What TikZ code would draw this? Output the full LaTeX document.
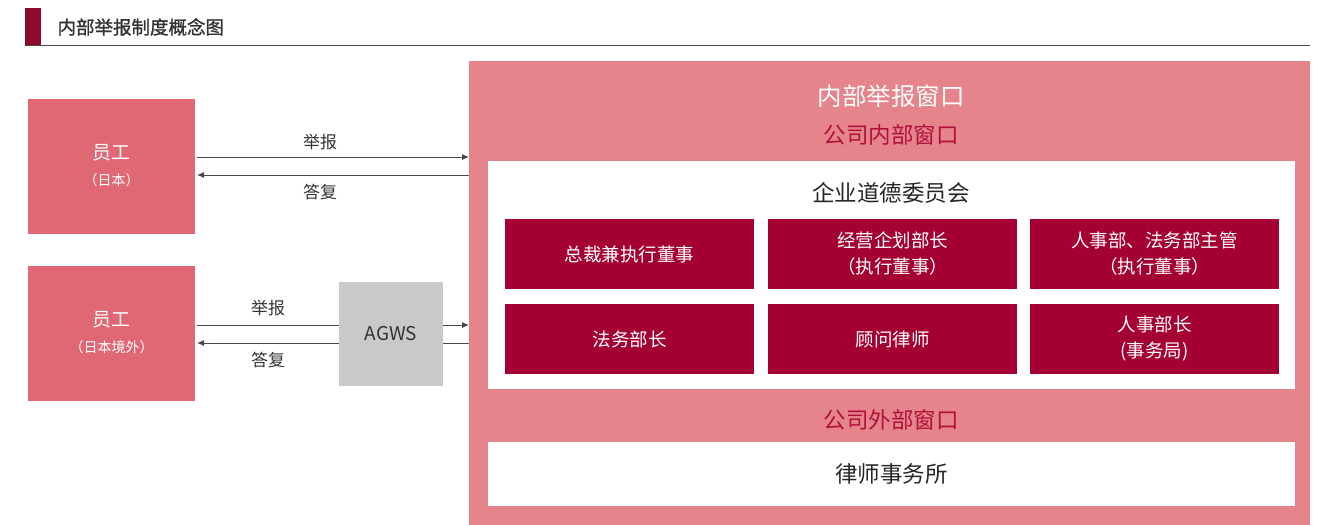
\documentclass[tikz,border=0pt]{standalone}
\usepackage{fontspec}
\setmainfont{Noto Sans CJK SC}
\usetikzlibrary{arrows.meta}
\definecolor{titlered}{HTML}{8C0A2C}
\definecolor{emp}{HTML}{E06874}
\definecolor{win}{HTML}{E5848A}
\definecolor{dark}{HTML}{A50034}
\definecolor{agws}{HTML}{C8C9CB}
\definecolor{txt}{HTML}{333333}
\definecolor{wred}{HTML}{B0103C}
\tikzset{
  x=1pt,y=-1pt,
  box/.style={draw=none,inner sep=0pt,outer sep=0pt},
  emp/.style={box,fill=emp,minimum width=167pt,minimum height=135pt,text=white,align=center},
  mbox/.style={box,fill=dark,minimum width=249pt,minimum height=70pt,text=white,align=center,font=\fontsize{18.5}{26}\selectfont},
  arr/.style={draw=txt!90,line width=1pt,-{Latex[length=7pt,width=6pt]}},
  lbl/.style={text=txt,font=\fontsize{17}{20}\selectfont},
}
\begin{document}
\begin{tikzpicture}
\useasboundingbox (0,0) rectangle (1326,525);
% title
\fill[titlered] (25,8) rectangle (41,45);
\node[anchor=west,text=txt,font=\fontsize{18.5}{20}\selectfont\addfontfeature{FakeBold=1.2}] (title) at (54,27) {内部举报制度概念图};
\draw[txt!90,line width=1pt] (25,45.5) -- (1310,45.5);
% big window
\node[box,fill=win,minimum width=841pt,minimum height=464pt,anchor=north west] (win) at (469,61) {};
\node[text=white,font=\fontsize{24.5}{28}\selectfont] (wtitle) at (891,96) {内部举报窗口};
\node[text=wred,font=\fontsize{22.5}{26}\selectfont] (intitle) at (891,135) {公司内部窗口};
\node[box,fill=white,minimum width=807pt,minimum height=228pt,anchor=north west] (inner) at (488,161) {};
\node[text=black!85,font=\fontsize{22.5}{26}\selectfont] (comm) at (891,193) {企业道德委员会};
\node[mbox,anchor=north west] (m1) at (505,219) {总裁兼执行董事};
\node[mbox,anchor=north west] (m2) at (768,219) {经营企划部长\\（执行董事）};
\node[mbox,anchor=north west] (m3) at (1030,219) {人事部、法务部主管\\（执行董事）};
\node[mbox,anchor=north west] (m4) at (505,304) {法务部长};
\node[mbox,anchor=north west] (m5) at (768,304) {顾问律师};
\node[mbox,anchor=north west] (m6) at (1030,304) {人事部长\\(事务局)};
\node[text=wred,font=\fontsize{22.5}{26}\selectfont] (outtitle) at (891,420) {公司外部窗口};
\node[box,fill=white,minimum width=807pt,minimum height=64pt,anchor=north west,text=black!85,font=\fontsize{22.5}{26}\selectfont] (law) at (488,442) {律师事务所};
% employees
\node[emp,anchor=north west] (e1) at (28,99) {};
\node[text=white,font=\fontsize{19}{24}\selectfont] (e1a) at ([yshift=14pt]e1.center) {员工};
\node[text=white,font=\fontsize{14}{16}\selectfont] (e1b) at ([yshift=-13.5pt]e1.center) {（日本）};
\node[emp,anchor=north west] (e2) at (28,266) {};
\node[text=white,font=\fontsize{19}{24}\selectfont] (e2a) at ([yshift=14pt]e2.center) {员工};
\node[text=white,font=\fontsize{14}{16}\selectfont] (e2b) at ([yshift=-13.5pt]e2.center) {（日本境外）};
\node[box,fill=agws,minimum width=104pt,minimum height=104pt,anchor=north west,text=txt,font=\fontsize{19}{22}\selectfont] (ag) at (339,282) {AGWS};
% arrows top
\coordinate (a1s) at (197,157); \coordinate (a1e) at (469,157);
\coordinate (a2s) at (469,175); \coordinate (a2e) at (197,175);
\draw[arr] (a1s) -- (a1e);
\draw[arr] (a2s) -- (a2e);
\node[lbl] (r1) at (320,142) {举报};
\node[lbl] (d1) at (320,192) {答复};
% arrows bottom
\coordinate (b1s) at (197,325); \coordinate (b1m) at (339,325); \coordinate (b1n) at (443,325); \coordinate (b1e) at (469,325);
\coordinate (b2s) at (469,343); \coordinate (b2m) at (443,343); \coordinate (b2n) at (339,343); \coordinate (b2e) at (197,343);
\draw[arr,-] (b1s) -- (b1m);
\draw[arr] (b1n) -- (b1e);
\draw[arr,-] (b2s) -- (b2m);
\draw[arr] (b2n) -- (b2e);
\node[lbl] (r2) at (268,308) {举报};
\node[lbl] (d2) at (268,360) {答复};
\end{tikzpicture}
\end{document}
